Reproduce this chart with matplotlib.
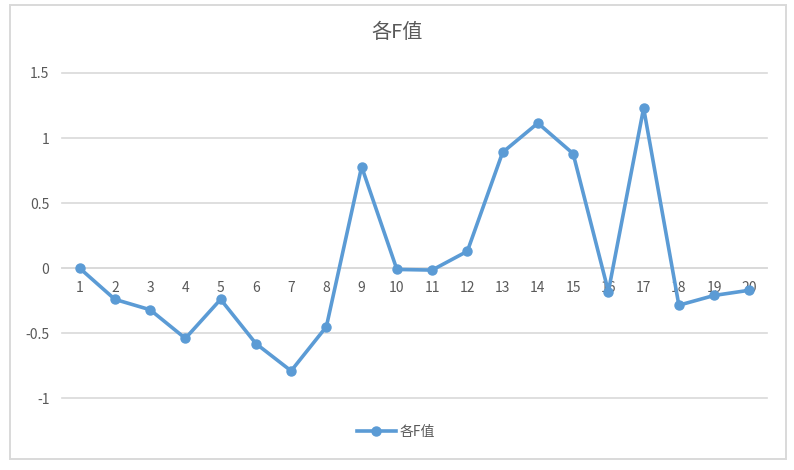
import matplotlib.pyplot as plt
from matplotlib.patches import Rectangle

plt.rcParams['font.family'] = ['Noto Sans CJK SC', 'DejaVu Sans']

# === Data ===
categories = [str(i) for i in range(1, 21)]
f_values = [0, -0.24, -0.32, -0.54, -0.24, -0.58, -0.79, -0.45, 0.78, -0.01,
            -0.015, 0.13, 0.89, 1.115, 0.88, -0.18, 1.23, -0.285, -0.21, -0.17]
y_ticks = [-1, -0.5, 0, 0.5, 1, 1.5]
y_labels = ["-1", "-0.5", "0", "0.5", "1", "1.5"]

text_col = '#595959'
grid_col = '#D9D9D9'
line_col = '#5B9BD5'

fig = plt.figure(figsize=(7.94, 4.70), dpi=100)
ax = fig.add_axes([62 / 794, 1 - 399 / 470, 705 / 794, 326 / 470])

x = list(range(1, len(categories) + 1))
ax.plot(x, f_values, color=line_col, linewidth=2.6, marker='o',
        markersize=6.5, label='各F值', zorder=3)

ax.set_xlim(0.5, len(categories) + 0.5)
ax.set_ylim(-1.006, 1.5)
ax.set_yticks(y_ticks)
ax.set_yticklabels(y_labels)
ax.set_xticks(x)
ax.set_xticklabels(categories)

for s in ['top', 'right', 'left']:
    ax.spines[s].set_visible(False)
ax.spines['bottom'].set_position(('data', 0))
ax.spines['bottom'].set_color(grid_col)
ax.spines['bottom'].set_linewidth(1.2)
ax.spines['bottom'].set_zorder(1)

ax.yaxis.grid(True, color=grid_col, linewidth=1.2)
for gl in ax.get_ygridlines():
    gl.set_clip_on(False)
ax.set_axisbelow(True)
ax.tick_params(axis='both', length=0, colors=text_col, labelsize=10)
ax.tick_params(axis='x', pad=9)
ax.tick_params(axis='y', pad=9)

fig.text(0.5, 1 - 33 / 470, '各F值', ha='center', va='center',
         fontsize=14.5, color=text_col)

fig.legend(loc='center', bbox_to_anchor=(396 / 794, 1 - 432 / 470),
           frameon=False, fontsize=10, labelcolor=text_col,
           handlelength=2.8, handletextpad=0.3)

fig.patches.append(Rectangle((10 / 794, 1 - 459 / 470), 776 / 794, 454 / 470,
                             transform=fig.transFigure, fill=False,
                             edgecolor=grid_col, linewidth=1.4))

fig.savefig('out.png', dpi=100)
